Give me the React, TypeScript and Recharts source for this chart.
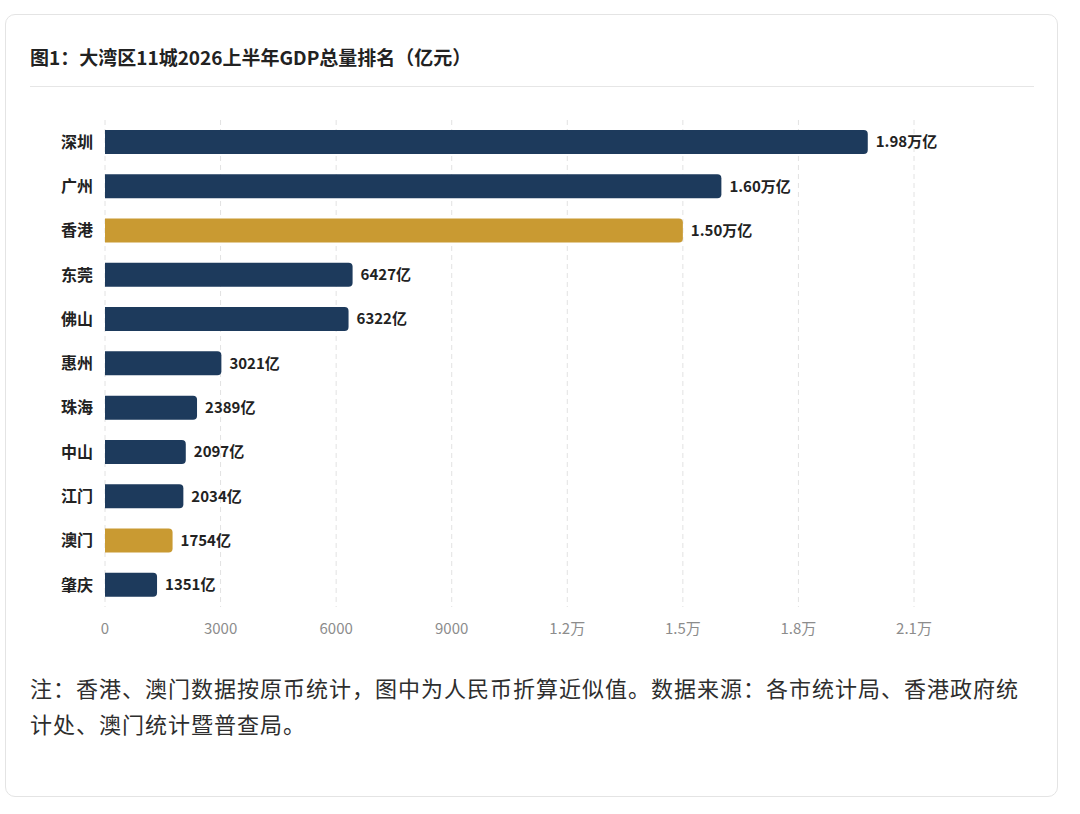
import { BarChart, Bar, XAxis, YAxis, CartesianGrid, Cell, LabelList } from "recharts";

const cities = ["深圳", "广州", "香港", "东莞", "佛山", "惠州", "珠海", "中山", "江门", "澳门", "肇庆"];
const gdp = [19800, 16000, 15000, 6427, 6322, 3021, 2389, 2097, 2034, 1754, 1351];
const highlighted = ["香港", "澳门"];
const xTicks = [0, 3000, 6000, 9000, 12000, 15000, 18000, 21000];

const data = cities.map((city, i) => ({ city, gdp: gdp[i] }));

const NAVY = "#1d3a5c";
const GOLD = "#c99a32";
const FONT = '"Noto Sans CJK SC", "Noto Sans", sans-serif';

const fmtTick = (v: number) => (v >= 10000 ? `${(v / 10000).toFixed(1)}万` : `${v}`);
const fmtLabel = (v: number) => (v >= 10000 ? `${(v / 10000).toFixed(2)}万亿` : `${v}亿`);

export default function App() {
  return (
    <div
      style={{
        position: "absolute",
        left: 5,
        top: 14,
        width: 1051,
        height: 781,
        border: "1px solid #e4e4e4",
        borderRadius: 10,
        background: "#fff",
        fontFamily: FONT,
      }}
    >
      <div
        style={{
          position: "absolute",
          left: 24,
          top: 29,
          fontSize: 19,
          fontWeight: 700,
          color: "#222",
          lineHeight: "26px",
        }}
      >
        图1：大湾区11城2026上半年GDP总量排名（亿元）
      </div>
      <div
        style={{
          position: "absolute",
          left: 24,
          top: 71,
          width: 1004,
          height: 1,
          background: "#e6e6e6",
        }}
      />
      <div style={{ position: "absolute", left: 24, top: 95 }}>
        <BarChart
          width={1004}
          height={527}
          data={data}
          layout="vertical"
          margin={{ top: 10, right: 120, left: 0, bottom: 0 }}
          barSize={24}
        >
          <CartesianGrid horizontal={false} strokeDasharray="5 4" stroke="#e2e2e2" />
          <XAxis
            type="number"
            domain={[0, 21000]}
            ticks={xTicks}
            tickFormatter={fmtTick}
            axisLine={false}
            tickLine={false}
            tickSize={6}
            tickMargin={10}
            height={30}
            tick={{ fill: "#8c8c8c", fontSize: 15, fontFamily: FONT }}
          />
          <YAxis
            type="category"
            dataKey="city"
            width={75}
            axisLine={false}
            tickLine={false}
            tickSize={6}
            tickMargin={6}
            tick={{ fill: "#222", fontSize: 16, fontWeight: 700, fontFamily: FONT }}
          />
          <Bar dataKey="gdp" radius={[0, 4, 4, 0]} isAnimationActive={false}>
            {data.map((d) => (
              <Cell key={d.city} fill={highlighted.includes(d.city) ? GOLD : NAVY} />
            ))}
            <LabelList
              dataKey="gdp"
              position="right"
              offset={8}
              formatter={(v: any) => fmtLabel(Number(v))}
              style={{ fill: "#222", fontSize: 15, fontWeight: 600, fontFamily: FONT }}
            />
          </Bar>
        </BarChart>
      </div>
      <div
        style={{
          position: "absolute",
          left: 24,
          top: 654,
          width: 1004,
          fontSize: 22,
          letterSpacing: 1,
          lineHeight: "36px",
          color: "#2e2e2e",
        }}
      >
        注：香港、澳门数据按原币统计，图中为人民币折算近似值。数据来源：各市统计局、香港政府统计处、澳门统计暨普查局。
      </div>
    </div>
  );
}
